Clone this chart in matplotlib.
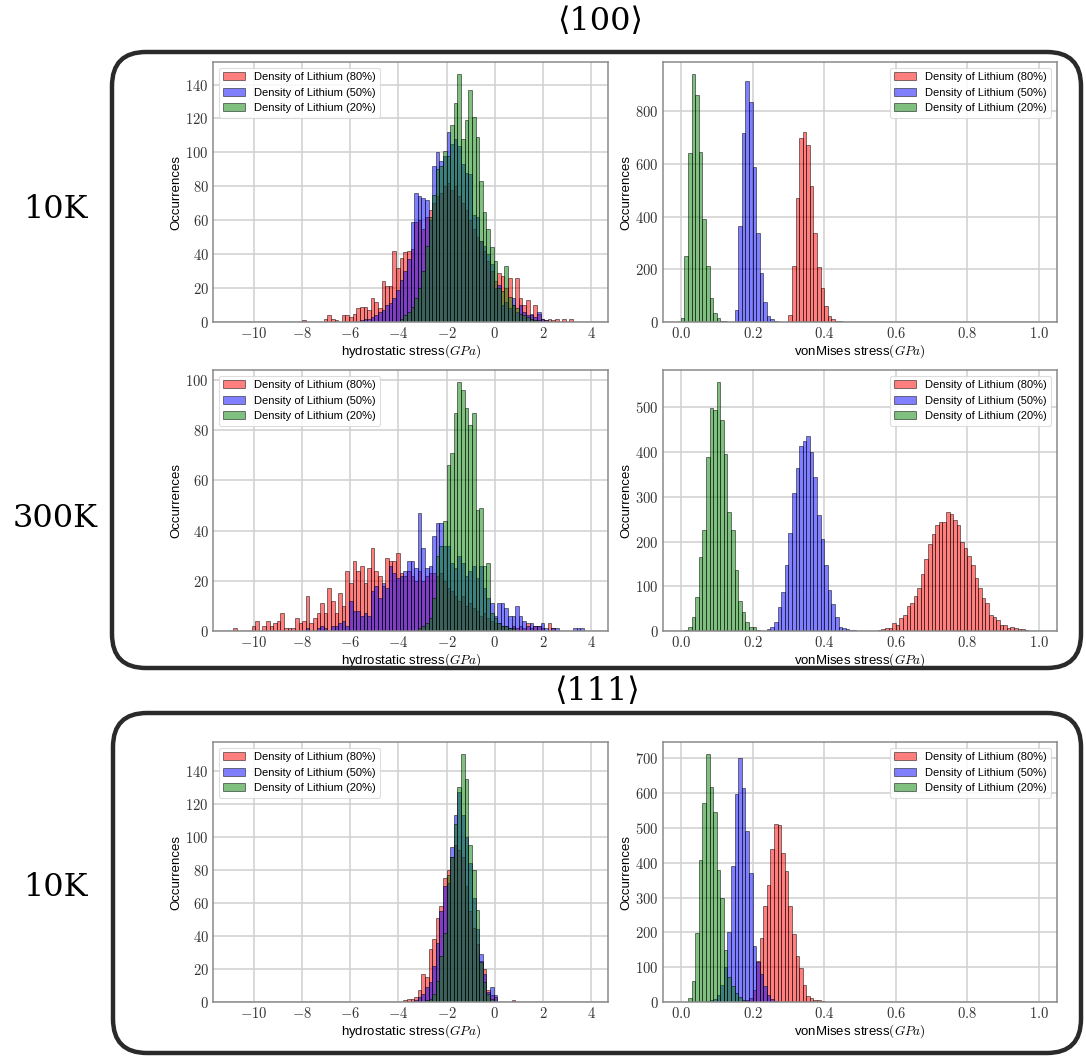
import numpy as np
import matplotlib
matplotlib.use('Agg')
from matplotlib import pyplot as plt
from matplotlib.patches import FancyBboxPatch
from matplotlib.transforms import IdentityTransform
from matplotlib.ticker import MultipleLocator, FuncFormatter

plt.rcParams['mathtext.fontset'] = 'cm'
plt.rcParams['font.family'] = ['Liberation Sans', 'DejaVu Sans']

labels = ['Density of Lithium (80%)', 'Density of Lithium (50%)', 'Density of Lithium (20%)']
colors = ['red', 'blue', 'green']

hyd_width = 0.15   # bin width, hydrostatic stress (GPa)
vm_width = 0.01    # bin width, vonMises stress (GPa)

# <100>, 10K, hydrostatic
h100_10k_red_start = -8.0
h100_10k_red = [1, 0, 0, 0, 0, 0, 2, 4, 2, 1, 0, 4, 4, 3, 5, 8, 9, 9, 7, 14,
                12, 8, 24, 21, 21, 42, 32, 38, 41, 42, 43, 59, 60, 55, 62, 66, 70, 74, 76, 80,
                82, 78, 80, 74, 70, 66, 60, 55, 50, 48, 42, 36, 30, 24, 29, 27, 20, 26, 10, 26,
                14, 10, 13, 4, 10, 5, 2, 1, 2, 1, 2, 0, 2, 0, 2]
h100_10k_blue_start = -5.6
h100_10k_blue = [1, 2, 2, 3, 4, 6, 7, 10, 11, 14, 19, 25, 30, 37, 59, 76, 74, 73, 72, 60,
                 92, 100, 95, 98, 112, 105, 108, 104, 93, 88, 87, 63, 62, 48, 45, 40, 34, 20, 22, 10,
                 12, 8, 14, 6, 10, 6, 4, 5, 3, 6, 2, 1]
h100_10k_green_start = -3.95
h100_10k_green = [2, 4, 6, 9, 14, 20, 30, 45, 62, 75, 90, 92, 101, 98, 116, 129, 146, 108, 119, 137,
                  121, 109, 83, 65, 55, 44, 36, 20, 18, 33, 15, 10, 8, 5, 4, 3, 2, 1, 1]

# <100>, 10K, vonMises
v100_10k_red_start = 0.30
v100_10k_red = [28, 214, 470, 700, 721, 672, 518, 339, 207, 128, 59, 24, 11, 5, 2]
v100_10k_blue_start = 0.15
v100_10k_blue = [46, 364, 718, 916, 835, 587, 339, 185, 75, 21, 11, 3]
v100_10k_green_start = 0.0
v100_10k_green = [15, 250, 640, 940, 860, 645, 390, 212, 90, 35, 15, 5, 2]

# <100>, 300K, hydrostatic
h100_300k_red_start = -10.85
h100_300k_red = [1, 0, 0, 0, 0, 2, 4, 0, 2, 4, 2, 3, 4, 7, 1, 1, 1, 5, 3, 4,
                 14, 3, 5, 7, 11, 7, 17, 12, 7, 15, 10, 24, 19, 28, 24, 26, 19, 25, 33, 24,
                 22, 18, 29, 28, 28, 31, 23, 22, 24, 22, 20, 24, 20, 22, 23, 23, 22, 23, 20, 17,
                 16, 14, 12, 14, 10, 11, 9, 8, 6, 7, 5, 4, 3, 3, 2, 2, 1, 2, 1, 2,
                 1, 3, 1, 2, 2, 1, 0, 3, 1]
h100_300k_blue_start = -7.85
h100_300k_blue = [1, 0, 0, 1, 2, 1, 0, 2, 2, 3, 4, 2, 12, 8, 8, 6, 7, 6, 16, 18,
                  13, 19, 17, 26, 23, 21, 22, 24, 28, 28, 25, 47, 33, 25, 26, 38, 43, 43, 34, 34,
                  27, 25, 30, 27, 22, 24, 26, 21, 26, 17, 13, 11, 6, 11, 11, 9, 6, 6, 10, 6,
                  4, 2, 3, 2, 2, 3, 1, 0, 1, 1, 0, 0, 0, 0, 1, 1, 1]
h100_300k_green_start = -3.2
h100_300k_green = [1, 2, 3, 5, 13, 30, 34, 44, 66, 71, 87, 99, 96, 89, 82, 87, 48, 49, 26, 27,
                   7, 5, 3, 2, 2, 1, 1]

# <100>, 300K, vonMises
v100_300k_red_start = 0.51
v100_300k_red = [1, 0, 0, 1, 2, 4, 6, 7, 19, 13, 30, 36, 55, 62, 78, 96, 128, 161, 195, 217,
                 237, 243, 243, 266, 261, 249, 237, 200, 185, 168, 148, 118, 96, 73, 63, 36, 32, 25, 13, 13,
                 6, 8, 6, 4, 4, 2]
v100_300k_blue_start = 0.23
v100_300k_blue = [1, 4, 10, 21, 54, 87, 148, 219, 308, 364, 413, 424, 437, 401, 345, 260, 206, 148, 92, 61,
                  32, 10, 6, 4, 2, 2, 1]
v100_300k_green_start = 0.01
v100_300k_green = [2, 10, 32, 77, 165, 225, 390, 498, 495, 556, 471, 396, 267, 226, 137, 66, 42, 21, 8, 8, 2]

# <111>, 10K, hydrostatic
h111_10k_red_start = -3.8
h111_10k_red = [1, 2, 2, 3, 7, 17, 15, 32, 38, 51, 58, 75, 80, 88, 95, 92, 88, 70, 55, 45,
                35, 25, 20, 7, 4, 3, 0, 0, 0, 0, 1]
h111_10k_blue_start = -3.35
h111_10k_blue = [1, 3, 5, 9, 12, 22, 36, 55, 70, 72, 94, 113, 127, 113, 100, 84, 63, 44, 29, 17,
                 6, 9, 4]
h111_10k_green_start = -2.9
h111_10k_green = [1, 2, 5, 13, 28, 42, 77, 88, 108, 130, 150, 135, 95, 80, 56, 24, 12, 5, 2]

# <111>, 10K, vonMises
v111_10k_red_start = 0.17
v111_10k_red = [2, 5, 12, 35, 118, 183, 276, 335, 438, 511, 508, 428, 375, 275, 194, 133, 99, 48, 18, 11,
                7, 5, 3]
v111_10k_blue_start = 0.07
v111_10k_blue = [2, 5, 10, 20, 50, 100, 200, 390, 597, 700, 615, 490, 370, 160, 116, 80, 45, 20, 10, 2]
v111_10k_green_start = 0.02
v111_10k_green = [11, 59, 197, 407, 570, 711, 616, 545, 378, 300, 150, 73, 45, 25, 13, 5, 2]


def draw_hist(ax, series, width):
    for (start, counts), color, label in zip(series, colors, labels):
        counts = np.array(counts, dtype=float)
        edges = start + width * np.arange(len(counts) + 1)
        ax.hist(edges[:-1] + width / 2, bins=edges, weights=counts, color=color,
                alpha=0.5, edgecolor='black', linewidth=0.7, label=label)


def style(ax, kind, ystep):
    ax.set_axisbelow(True)
    ax.grid(True, color='#cfcfcf', linewidth=1.1)
    for s in ax.spines.values():
        s.set_color('#8a8a8a')
        s.set_linewidth(1.1)
    ax.tick_params(length=0, labelsize=10.5, pad=3, colors='#333333')
    ax.yaxis.set_major_locator(MultipleLocator(ystep))
    ax.yaxis.set_major_formatter(FuncFormatter(lambda v, p: f'${int(round(v))}$'))
    ax.set_ylabel('Occurrences', fontsize=9.5, labelpad=2)
    if kind == 'hyd':
        ax.set_xlim(-11.7, 4.7)
        ax.xaxis.set_major_locator(MultipleLocator(2))
        ax.xaxis.set_major_formatter(FuncFormatter(lambda v, p: f'${int(round(v))}$'))
        ax.set_xlabel('hydrostatic stress$(GPa)$', fontsize=9.5, labelpad=1)
        loc = 'upper left'
    else:
        ax.set_xlim(-0.05, 1.05)
        ax.xaxis.set_major_locator(MultipleLocator(0.2))
        ax.xaxis.set_major_formatter(FuncFormatter(lambda v, p: f'${v:.1f}$'))
        ax.set_xlabel('vonMises stress$(GPa)$', fontsize=9.5, labelpad=1)
        loc = 'upper right'
    leg = ax.legend(loc=loc, fontsize=8, framealpha=0.85, edgecolor='#d8d8d8', fancybox=True)
    leg.get_frame().set_linewidth(0.8)


W, H = 1086, 1057
fig = plt.figure(figsize=(W / 100, H / 100), dpi=100)


def px_axes(x0, y0, x1, y1):
    return fig.add_axes([x0 / W, 1 - y1 / H, (x1 - x0) / W, (y1 - y0) / H])


panels = [
    ((213, 62, 608, 322), 'hyd', 20, [(h100_10k_red_start, h100_10k_red), (h100_10k_blue_start, h100_10k_blue), (h100_10k_green_start, h100_10k_green)]),
    ((663, 62, 1057, 322), 'vm', 200, [(v100_10k_red_start, v100_10k_red), (v100_10k_blue_start, v100_10k_blue), (v100_10k_green_start, v100_10k_green)]),
    ((213, 370, 608, 631), 'hyd', 20, [(h100_300k_red_start, h100_300k_red), (h100_300k_blue_start, h100_300k_blue), (h100_300k_green_start, h100_300k_green)]),
    ((663, 370, 1057, 631), 'vm', 100, [(v100_300k_red_start, v100_300k_red), (v100_300k_blue_start, v100_300k_blue), (v100_300k_green_start, v100_300k_green)]),
    ((213, 742, 608, 1002), 'hyd', 20, [(h111_10k_red_start, h111_10k_red), (h111_10k_blue_start, h111_10k_blue), (h111_10k_green_start, h111_10k_green)]),
    ((663, 742, 1057, 1002), 'vm', 100, [(v111_10k_red_start, v111_10k_red), (v111_10k_blue_start, v111_10k_blue), (v111_10k_green_start, v111_10k_green)]),
]

for box, kind, ystep, series in panels:
    ax = px_axes(*box)
    draw_hist(ax, series, hyd_width if kind == 'hyd' else vm_width)
    style(ax, kind, ystep)

# rounded frames around the two groups (pixel coordinates, origin bottom-left)
for x0, y0, x1, y1 in [(112, 52, 1081, 668), (113, 713, 1081, 1053)]:
    frame = FancyBboxPatch((x0, H - y1), x1 - x0, y1 - y0, boxstyle='round,pad=0,rounding_size=34',
                           transform=IdentityTransform(), fill=False, edgecolor='#2a2a2a', linewidth=3.2)
    fig.patches.append(frame)

serif = ['DejaVu Serif', 'DejaVu Sans']
fig.text(600 / W, 1 - 22 / H, '\u27e8100\u27e9', ha='center', va='center', fontsize=23, family=serif)
fig.text(597 / W, 1 - 692 / H, '\u27e8111\u27e9', ha='center', va='center', fontsize=23, family=serif)
fig.text(55 / W, 1 - 210 / H, '10K', ha='center', va='center', fontsize=23, family=serif)
fig.text(55 / W, 1 - 518 / H, '300K', ha='center', va='center', fontsize=23, family=serif)
fig.text(55 / W, 1 - 888 / H, '10K', ha='center', va='center', fontsize=23, family=serif)

fig.savefig('out.png', dpi=100)
